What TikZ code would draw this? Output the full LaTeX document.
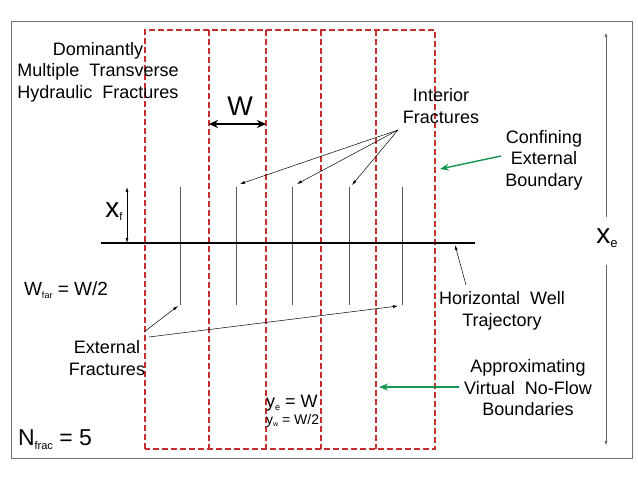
\documentclass[tikz,border=0pt]{standalone}
\usepackage{fontspec}
\setmainfont{Liberation Sans}
\usetikzlibrary{arrows.meta}
\definecolor{bred}{RGB}{200,45,45}
\definecolor{bgreen}{RGB}{20,150,80}
\begin{document}
\begin{tikzpicture}[x=1pt,y=-1pt,
  lbl/.style={align=center,font=\fontsize{18}{21.5}\selectfont,inner sep=0pt},
  bound/.style={bred,line width=1.2pt,dash pattern=on 6pt off 3pt},
  frac/.style={black!65,line width=0.8pt},
  thinarrow/.style={-{Latex[length=5pt,width=3pt]},line width=0.5pt},
  greenarrow/.style={bgreen,line width=1.4pt,-{Stealth[length=9pt,width=7pt]}},
]
\useasboundingbox (0,0) rectangle (638,479);
\node[draw=black!55,line width=1pt,minimum width=621pt,minimum height=437pt,inner sep=0pt] (frame) at (321.5,239.5) {};
% virtual no-flow boundaries
\coordinate (b0t) at (145,30); \coordinate (b0b) at (145,449);
\coordinate (b5t) at (435,30); \coordinate (b5b) at (435,449);
\draw[bound] (b0b) -- (b0t) -- (b5t) -- (b5b) -- cycle;
\foreach \i/\x in {1/209,2/266,3/321,4/376}{
  \coordinate (b\i t) at (\x,30); \coordinate (b\i b) at (\x,449);
  \draw[bound] (b\i t) -- (b\i b);
}
% fractures
\foreach \i/\x in {1/180,2/236,3/292,4/349,5/402}{
  \coordinate (f\i t) at (\x,187); \coordinate (f\i b) at (\x,305);
  \draw[frac] (f\i t) -- (f\i b);
}
% well
\coordinate (wl) at (101,243); \coordinate (wr) at (475,243);
\draw[line width=2pt] (wl) -- (wr);
% W
\coordinate (wa) at (209,124); \coordinate (wb) at (266,124);
\draw[line width=1.8pt,{Stealth[length=9pt,width=8pt]}-{Stealth[length=9pt,width=8pt]}] (wa) -- (wb);
\node[lbl,font=\fontsize{27}{27}\selectfont] (W) at (240,106) {W};
% x_f
\coordinate (xfa) at (127,187); \coordinate (xfb) at (127,243);
\draw[line width=0.6pt,{Latex[length=5pt,width=3pt]}-{Latex[length=5pt,width=3pt]}] (xfa) -- (xfb);
\node[lbl] (xf) at (114,212) {{\fontsize{28}{28}\selectfont x}{\fontsize{11}{11}\selectfont\raisebox{-3pt}{f}}};
% x_e
\coordinate (xet) at (606,32); \coordinate (xeb) at (606,446);
\node[lbl] (xe) at (607,238) {{\fontsize{28}{28}\selectfont x}{\fontsize{13}{13}\selectfont\raisebox{-4pt}{e}}};
\draw[black!60,line width=0.9pt,-{Latex[length=5pt,width=3pt]}] (606,217) -- (xet);
\draw[black!60,line width=0.9pt,-{Latex[length=5pt,width=3pt]}] (606,265) -- (xeb);
% labels
\node[lbl] (dom) at (98,72) {Dominantly\\Multiple\ \ Transverse\\Hydraulic\ \ Fractures};
\node[lbl] (int) at (441,106) {Interior\\Fractures};
\node[lbl] (conf) at (544,160) {Confining\\External\\Boundary};
\node[lbl] (hw) at (502,311) {Horizontal\ \ Well\\Trajectory};
\node[lbl] (appr) at (528,388) {Approximating\\Virtual\ \ No-Flow\\Boundaries};
\node[lbl] (ext) at (107,358) {External\\Fractures};
\node[lbl,font=\fontsize{19}{19}\selectfont] (wfar) at (66,290) {W{\fontsize{9}{9}\selectfont\raisebox{-3pt}{far}} = W/2};
\node[lbl,font=\fontsize{23}{23}\selectfont] (nfrac) at (55,440) {N{\fontsize{11}{11}\selectfont\raisebox{-4pt}{frac}} = 5};
\node[lbl,anchor=west,font=\fontsize{18}{18}\selectfont] (ye) at (266,403) {y{\fontsize{9}{9}\selectfont\raisebox{-3pt}{e}} = W};
\node[lbl,anchor=west,font=\fontsize{14}{14}\selectfont] (yw) at (266,421) {y{\fontsize{7}{7}\selectfont\raisebox{-2pt}{w}} = W/2};
% arrows
\coordinate (intp) at (398,130);
\coordinate (i1) at (240,184); \coordinate (i2) at (297,184); \coordinate (i3) at (352,185);
\foreach \c in {i1,i2,i3} \draw[thinarrow] (intp) -- (\c);
\coordinate (confp) at (501,156); \coordinate (confq) at (440,169);
\draw[greenarrow] (confp) -- (confq);
\coordinate (hwp) at (466,285); \coordinate (hwq) at (455,245);
\draw[thinarrow] (hwp) -- (hwq);
\coordinate (apprp) at (459,387); \coordinate (apprq) at (379,387);
\draw[greenarrow] (apprp) -- (apprq);
\coordinate (e1p) at (144,332); \coordinate (e1q) at (178,306);
\coordinate (e2p) at (149,337); \coordinate (e2q) at (398,306);
\draw[thinarrow] (e1p) -- (e1q);
\draw[thinarrow] (e2p) -- (e2q);
\end{tikzpicture}
\end{document}
